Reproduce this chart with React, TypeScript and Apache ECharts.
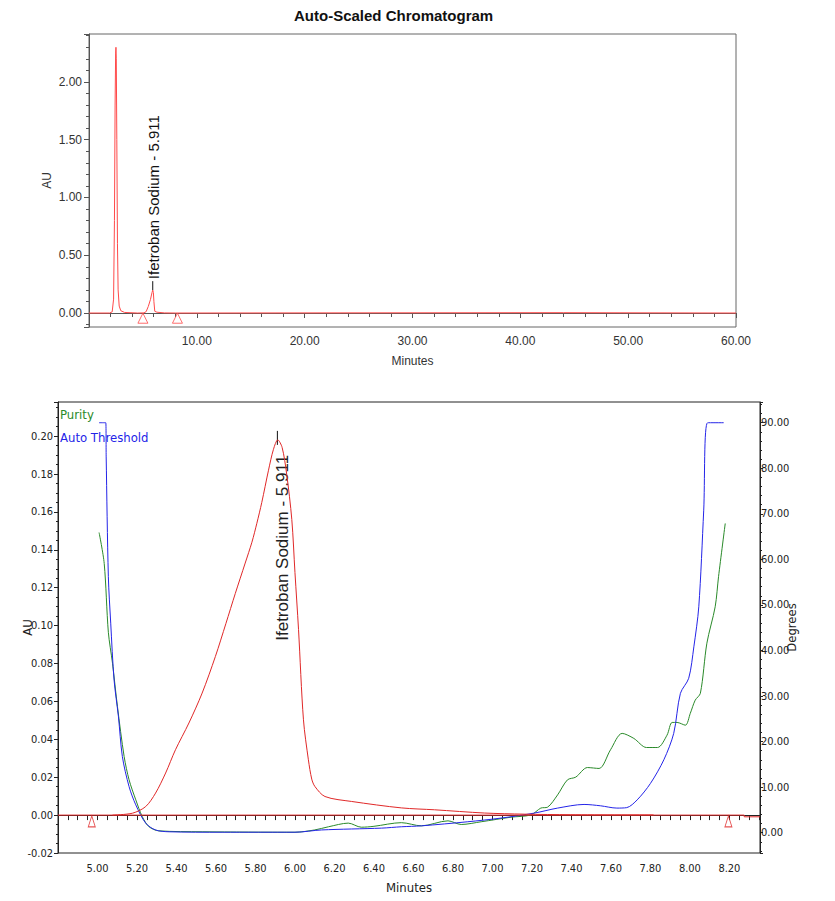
import React, { useEffect, useRef } from 'react';
import * as echarts from 'echarts';

// ---------- data ----------
const chartTitle = 'Auto-Scaled Chromatogram';
const peakName = 'Ifetroban Sodium - 5.911';
const peakTime = 5.911;
const peakHeight = 0.198;

// top panel: full run (minutes, AU)
const fullRunTrace: [number, number][] = [
  [0, 0], [1.9, 0], [2.15, 0.01], [2.28, 0.12], [2.36, 0.8], [2.42, 1.8], [2.47, 2.25],
  [2.5, 2.3], [2.53, 2.2], [2.58, 1.5], [2.64, 0.6], [2.7, 0.2], [2.8, 0.06], [2.95, 0.02],
  [3.3, 0.005], [4.5, 0], [5.1, 0.001], [5.3, 0.012], [5.5, 0.057], [5.7, 0.117], [5.85, 0.18],
  [5.911, 0.198], [5.97, 0.177], [6.02, 0.098], [6.1, 0.015], [6.3, 0.007], [7, 0.001], [8, 0],
  [44, 0.003], [60, 0],
];
const fullRunMarkers: [number, number][] = [[5.0, -0.045], [8.2, -0.045]];

// bottom panel: peak window
const peakTrace: [number, number][] = [
  [5.076, 0.0], [5.177, 0.001], [5.244, 0.0045], [5.294, 0.0116], [5.345, 0.0222], [5.395, 0.0345],
  [5.463, 0.0486], [5.53, 0.0644], [5.597, 0.0837], [5.65, 0.101], [5.698, 0.117], [5.748, 0.133],
  [5.782, 0.144], [5.807, 0.154], [5.832, 0.165], [5.866, 0.182], [5.891, 0.193], [5.913, 0.198],
  [5.935, 0.194], [5.958, 0.18], [5.984, 0.156], [6.0, 0.128], [6.018, 0.098], [6.043, 0.0503],
  [6.068, 0.0292], [6.085, 0.019], [6.101, 0.0151], [6.152, 0.0098], [6.287, 0.0072], [6.539, 0.0038],
  [6.707, 0.0028], [6.959, 0.0011], [7.161, 0.0005], [7.397, 0.0002], [7.816, 0.0001],
];
const peakBaseline: [number, number][] = [
  [4.8, 0], [8.275, 0], [8.275, -0.0009], [8.355, -0.0009],
];
const peakMarkers: [number, number][] = [[4.971, -0.0033], [8.195, -0.0033]];

const purityAngle: [number, number][] = [
  [5.008, 65.9], [5.034, 59.1], [5.055, 44.0], [5.076, 37.2], [5.101, 27.7], [5.135, 16.7],
  [5.16, 11.6], [5.194, 7.2], [5.227, 3.5], [5.261, 1.3], [5.311, 0.4], [5.53, 0.2], [6.0, 0.1],
  [6.1, 0.6], [6.17, 1.3], [6.27, 2.1], [6.336, 1.2], [6.4, 1.4], [6.539, 2.2], [6.64, 1.5],
  [6.775, 2.6], [6.842, 1.8], [6.943, 2.4], [7.094, 3.4], [7.195, 3.9], [7.245, 5.4], [7.279, 5.6],
  [7.33, 8.3], [7.38, 11.6], [7.422, 12.2], [7.481, 14.3], [7.54, 14.1], [7.598, 18.2],
  [7.657, 21.8], [7.716, 20.7], [7.78, 18.7], [7.836, 18.7], [7.884, 21.4], [7.91, 24.2],
  [7.935, 24.2], [7.977, 23.6], [8.002, 26.2], [8.027, 29.1], [8.053, 30.6], [8.086, 41.6],
  [8.128, 49.6], [8.145, 56.2], [8.179, 67.9],
];
const thresholdAngle: [number, number][] = [
  [5.008, 90], [5.042, 90], [5.044, 82.5], [5.055, 56.2], [5.067, 46.0], [5.084, 33.5],
  [5.106, 25.5], [5.126, 16.7], [5.16, 10.1], [5.194, 6.1], [5.244, 2.1], [5.294, 0.6],
  [5.362, 0.2], [5.631, 0.1], [6.0, 0.1], [6.135, 0.6], [6.438, 1.0], [6.539, 1.3], [6.64, 1.5],
  [6.875, 2.4], [7.043, 3.2], [7.212, 4.3], [7.33, 5.4], [7.464, 6.2], [7.548, 5.9], [7.63, 5.4],
  [7.68, 5.5], [7.733, 7.2], [7.8, 10.8], [7.868, 16.0], [7.918, 21.8], [7.952, 30.6],
  [7.994, 33.9], [8.02, 40.8], [8.045, 49.6], [8.07, 70.8], [8.09, 90.0], [8.171, 90.0],
];

// axis ranges
const fullRunTimeRange = [0, 60];
const fullRunAURange = [-0.121, 2.415];
const peakTimeRange = [4.8, 8.355];
const peakAURange = [-0.02, 0.218];
const peakDegRange = [-4.46, 94.55];

// ---------- styles ----------
const SANS = '"Liberation Sans", Arial, Helvetica, sans-serif';
const NARROW = '"Liberation Sans Narrow", "Arial Narrow", "DejaVu Sans Condensed", sans-serif';
const RED_TOP = '#ff4a4a';
const RED = '#e02828';
const GREEN = '#2a8a2a';
const BLUE = '#2424e8';

const stepFmt = (step: number) => (v: number) => {
  const r = v / step;
  return Math.abs(r - Math.round(r)) < 1e-6 ? v.toFixed(2) : '';
};

export default function App() {
  const ref = useRef<HTMLDivElement>(null);

  useEffect(() => {
    const chart = echarts.init(ref.current!, null, { renderer: 'svg' });

    const topAxisLine = { lineStyle: { color: '#555', width: 1 } };
    const botAxisLine = { lineStyle: { color: '#222', width: 1 } };

    const option: any = {
      animation: false,
      backgroundColor: '#ffffff',
      title: {
        text: chartTitle,
        left: 289,
        top: 3,
        textStyle: { fontFamily: SANS, fontSize: 15, fontWeight: 'bold', color: '#111' },
      },
      grid: [
        { left: 89, top: 34, width: 647, height: 293, show: true, borderColor: '#666', borderWidth: 1 },
        { left: 58, top: 402, width: 702, height: 451, show: true, borderColor: '#222', borderWidth: 1 },
      ],
      xAxis: [
        {
          type: 'value', gridIndex: 0, min: fullRunTimeRange[0], max: fullRunTimeRange[1], interval: 10,
          name: 'Minutes', nameLocation: 'middle', nameGap: 28, nameMoveOverlap: false,
          nameTextStyle: { fontFamily: SANS, fontSize: 12, color: '#333' },
          axisLine: topAxisLine,
          axisTick: { length: 5, lineStyle: { color: '#555' } },
          minorTick: { show: true, splitNumber: 5, length: 4, lineStyle: { color: '#555' } },
          axisLabel: { showMinLabel: false, formatter: stepFmt(10), margin: 8, fontFamily: SANS, fontSize: 12, color: '#333' },
          splitLine: { show: false },
        },
        {
          type: 'value', gridIndex: 1, min: peakTimeRange[0], max: peakTimeRange[1], interval: 0.2,
          name: 'Minutes', nameLocation: 'middle', nameGap: 28, nameMoveOverlap: false,
          nameTextStyle: { fontFamily: NARROW, fontSize: 13, color: '#222' },
          axisLine: botAxisLine,
          axisTick: { length: 5, lineStyle: { color: '#222' } },
          minorTick: { show: true, splitNumber: 4, length: 5, lineStyle: { color: '#222' } },
          axisLabel: { showMinLabel: false, showMaxLabel: false, formatter: stepFmt(0.2), margin: 10, fontFamily: NARROW, fontSize: 11, color: '#222' },
          splitLine: { show: false },
        },
      ],
      yAxis: [
        {
          type: 'value', gridIndex: 0, min: fullRunAURange[0], max: fullRunAURange[1], splitNumber: 5,
          name: 'AU', nameLocation: 'middle', nameGap: 36, nameRotate: 90, nameMoveOverlap: false,
          nameTextStyle: { fontFamily: SANS, fontSize: 12, color: '#333' },
          axisLine: { show: true, ...topAxisLine },
          axisTick: { show: true, length: 5, lineStyle: { color: '#555' } },
          minorTick: { show: true, splitNumber: 5, length: 3, lineStyle: { color: '#555' } },
          axisLabel: { showMinLabel: false, showMaxLabel: false, formatter: stepFmt(0.5), margin: 7, fontFamily: SANS, fontSize: 12, color: '#333' },
          splitLine: { show: false },
        },
        {
          type: 'value', gridIndex: 1, min: peakAURange[0], max: peakAURange[1], interval: 0.02,
          name: 'AU', nameLocation: 'middle', nameGap: 24, nameRotate: 90, nameMoveOverlap: false,
          nameTextStyle: { fontFamily: NARROW, fontSize: 13, color: '#222' },
          axisLine: { show: true, ...botAxisLine },
          axisTick: { show: true, length: 4, lineStyle: { color: '#222' } },
          minorTick: { show: true, splitNumber: 4, length: 2, lineStyle: { color: '#222' } },
          axisLabel: { showMaxLabel: false, formatter: stepFmt(0.02), margin: 5, fontFamily: NARROW, fontSize: 11, color: '#222' },
          splitLine: { show: false },
        },
        {
          type: 'value', gridIndex: 1, position: 'right', min: peakDegRange[0], max: peakDegRange[1], splitNumber: 10,
          name: 'Degrees', nameLocation: 'middle', nameGap: 25, nameRotate: 90, nameMoveOverlap: false,
          nameTextStyle: { fontFamily: NARROW, fontSize: 13, color: '#222' },
          axisLine: { show: true, ...botAxisLine },
          axisTick: { show: true, length: 3, lineStyle: { color: '#222' } },
          minorTick: { show: true, splitNumber: 5, length: 2, lineStyle: { color: '#222' } },
          axisLabel: { showMinLabel: false, showMaxLabel: false, formatter: stepFmt(10), margin: 1, fontFamily: NARROW, fontSize: 11, color: '#222' },
          splitLine: { show: false },
        },
      ],
      series: [
        {
          name: 'Full run', type: 'line', xAxisIndex: 0, yAxisIndex: 0, data: fullRunTrace,
          symbol: 'none', lineStyle: { color: RED_TOP, width: 1 }, z: 3,
        },
        {
          name: 'Full run markers', type: 'scatter', xAxisIndex: 0, yAxisIndex: 0, data: fullRunMarkers,
          symbol: 'triangle', symbolSize: [10, 10],
          itemStyle: { color: 'rgba(255,255,255,0)', borderColor: RED_TOP, borderWidth: 1 },
        },
        {
          name: 'Chromatogram', type: 'line', xAxisIndex: 1, yAxisIndex: 1, data: peakTrace,
          symbol: 'none', smooth: 0.3, lineStyle: { color: RED, width: 1 }, z: 4,
        },
        {
          name: 'Baseline', type: 'line', xAxisIndex: 1, yAxisIndex: 1, data: peakBaseline,
          symbol: 'none', lineStyle: { color: RED, width: 1 }, z: 4,
        },
        {
          name: 'Purity', type: 'line', xAxisIndex: 1, yAxisIndex: 2, data: purityAngle,
          symbol: 'none', smooth: 0.3, lineStyle: { color: GREEN, width: 1 }, z: 3,
        },
        {
          name: 'Auto Threshold', type: 'line', xAxisIndex: 1, yAxisIndex: 2, data: thresholdAngle,
          symbol: 'none', smooth: 0.3, lineStyle: { color: BLUE, width: 1 }, z: 3,
        },
        {
          name: 'Peak markers', type: 'scatter', xAxisIndex: 1, yAxisIndex: 1, data: peakMarkers,
          symbol: 'triangle', symbolSize: [7, 11],
          itemStyle: { color: 'rgba(255,255,255,0)', borderColor: RED, borderWidth: 1 },
        },
      ],
    };

    chart.setOption(option);

    const pt = chart.convertToPixel({ seriesIndex: 0 }, [peakTime, peakHeight]) as number[];
    const pb = chart.convertToPixel({ seriesIndex: 2 }, [peakTime, peakHeight]) as number[];

    chart.setOption({
      graphic: [
        { type: 'text', left: 60, top: 408, style: { text: 'Purity', fill: GREEN, fontFamily: NARROW, fontSize: 13 } },
        { type: 'text', left: 60, top: 431, style: { text: 'Auto Threshold', fill: BLUE, fontFamily: NARROW, fontSize: 13 } },
        { type: 'line', shape: { x1: pt[0], y1: pt[1], x2: pt[0], y2: pt[1] - 9 }, style: { stroke: '#111', lineWidth: 1 } },
        {
          type: 'text', x: pt[0] + 0.5, y: pt[1] - 11, rotation: Math.PI / 2,
          style: { text: peakName, fill: '#111', fontFamily: SANS, fontSize: 15, align: 'left', verticalAlign: 'middle' },
        },
        { type: 'line', shape: { x1: pb[0], y1: pb[1] - 9, x2: pb[0], y2: pb[1] + 5 }, style: { stroke: '#111', lineWidth: 1 } },
        {
          type: 'text', x: pb[0] + 5, y: pb[1] + 15, rotation: Math.PI / 2,
          style: { text: peakName, fill: '#222', fontFamily: SANS, fontSize: 17, align: 'right', verticalAlign: 'middle' },
        },
      ],
    });

    return () => chart.dispose();
  }, []);

  return <div ref={ref} style={{ position: 'fixed', left: 0, top: 0, width: 835, height: 901 }} />;
}
